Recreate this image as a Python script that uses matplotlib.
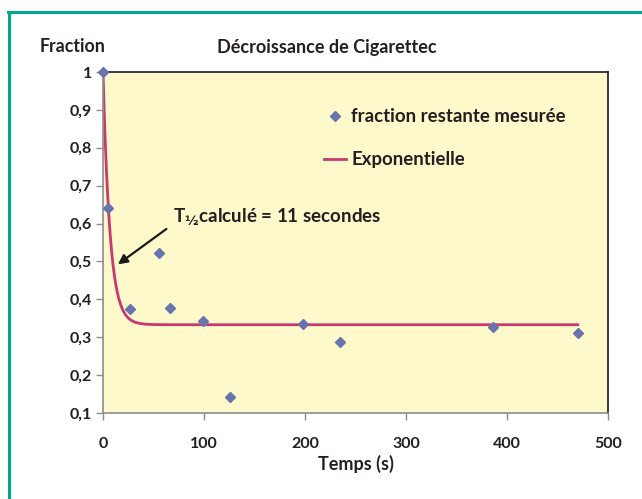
import numpy as np
import matplotlib.pyplot as plt
from matplotlib.lines import Line2D
from matplotlib.ticker import FuncFormatter

temps = [0, 5, 27, 55, 66, 99, 126, 198, 235, 386, 470]
fraction = [1.0, 0.64, 0.375, 0.522, 0.377, 0.342, 0.141, 0.334, 0.287, 0.326, 0.310]

# modèle exponentiel : plateau + amplitude * exp(-k t)
plateau = 0.333
amplitude = 1.0 - plateau
k = 0.145
t_fin = 470

plt.rcParams['font.family'] = ['Lato', 'DejaVu Sans']
plt.rcParams['font.weight'] = 'bold'
plt.rcParams['axes.labelweight'] = 'bold'
texte = '#231f20'

fig = plt.figure(figsize=(6.42, 4.99), dpi=100)
ax = fig.add_axes([103/642, 1-413/499, 505/642, 341/499])
ax.set_facecolor('#fdf9cb')

t = np.linspace(0, t_fin, 400)
ax.plot(t, plateau + amplitude*np.exp(-k*t), color='#c9386f', lw=2.0,
        label='Exponentielle', zorder=2)
ax.plot(temps, fraction, ls='none', marker='D', ms=5.5, color='#6874ad',
        label='fraction restante mesurée', zorder=3, clip_on=False)

ax.set_xlim(0, 500)
ax.set_ylim(0.1, 1.0)
ax.set_xticks(np.arange(0, 501, 100))
ax.set_yticks(np.arange(0.1, 1.01, 0.1))
ax.yaxis.set_major_formatter(FuncFormatter(
    lambda v, p: ('%g' % round(v, 1)).replace('.', ',')))
ax.tick_params(colors='#8c8c8c', labelcolor=texte, labelsize=11.5, length=5,
               width=1)
ax.tick_params(axis='x', pad=12)
ax.tick_params(axis='y', pad=3)
for s in ['left', 'bottom']:
    ax.spines[s].set_color('#8c8c8c')
    ax.spines[s].set_linewidth(1.2)
for s in ['top', 'right']:
    ax.spines[s].set_color('#1a1a1a')
    ax.spines[s].set_linewidth(1.2)

ax.set_xlabel('Temps (s)', fontsize=13, color=texte, labelpad=3)
fig.text(73/642, 1-47/499, 'Fraction', ha='center', va='center',
         fontsize=12.8, color=texte)
fig.text(327/642, 1-47/499, 'Décroissance de Cigarettec', ha='center',
         va='center', fontsize=13, color=texte)

ax.annotate('', xy=(12.5, 0.488), xytext=(65, 0.59),
            arrowprops=dict(arrowstyle='-|>', color='#1a1a1a', lw=1.6,
                            mutation_scale=14))
ax.text(69, 0.617, r'T$_{\mathbf{½}}$calculé = 11 secondes', fontsize=13.5,
        color=texte, va='center', ha='left')

leg = ax.legend(handles=ax.get_legend_handles_labels()[0][::-1],
                loc='upper left', bbox_to_anchor=(0.405, 0.943),
                frameon=False, fontsize=13.4, handlelength=1.15,
                handletextpad=0.3, labelspacing=1.4)
for txt in leg.get_texts():
    txt.set_color(texte)

# cadre vert
fig.add_artist(Line2D([8/642, 1], [1-11.5/499, 1-11.5/499],
                      color='#00a88e', lw=2.2, transform=fig.transFigure))
fig.add_artist(Line2D([8.5/642, 8.5/642], [0, 1-11.5/499],
                      color='#00a88e', lw=2.2, transform=fig.transFigure))

plt.savefig('out.png', dpi=100)
